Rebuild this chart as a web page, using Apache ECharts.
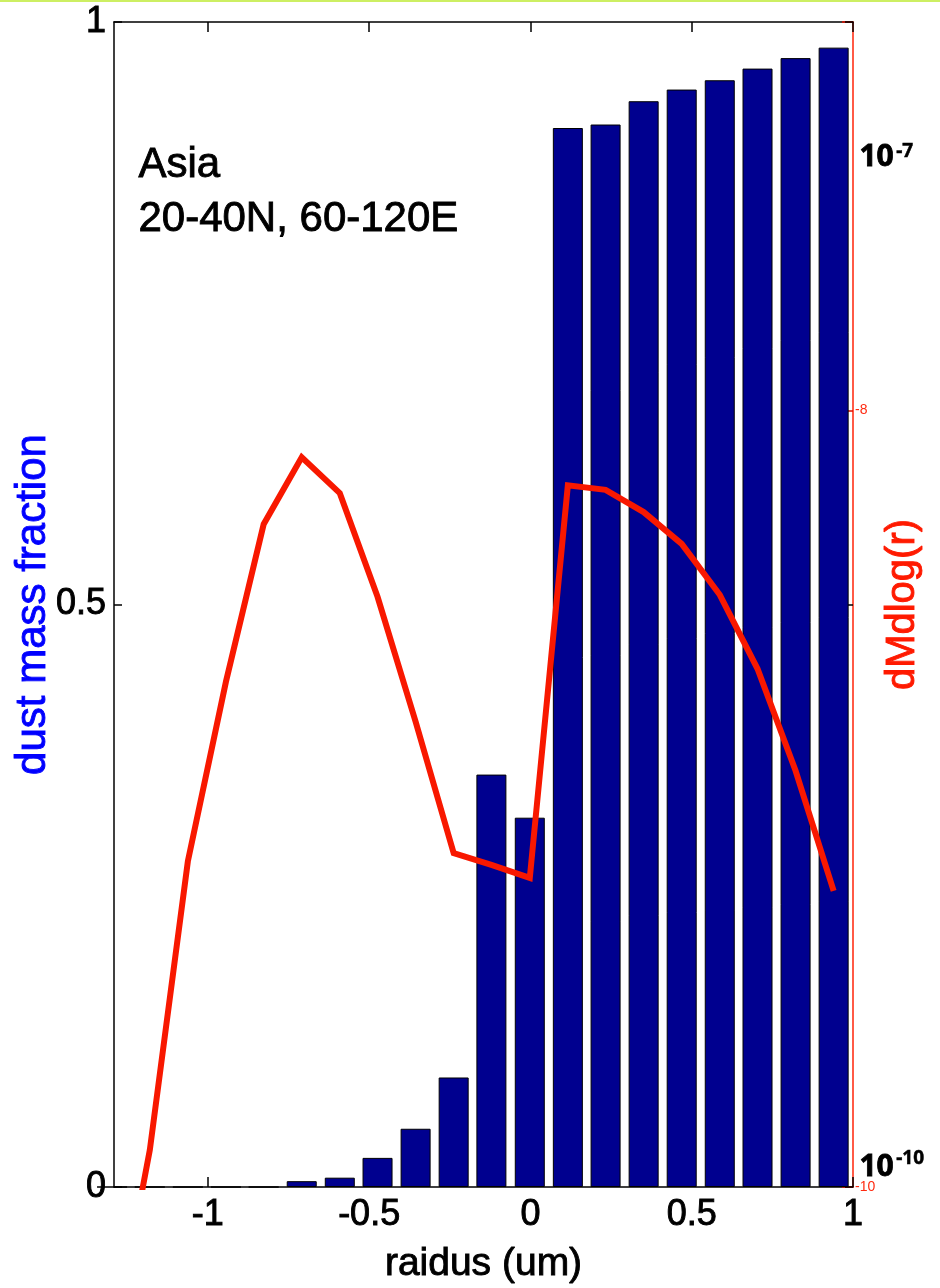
<!DOCTYPE html>
<html>
<head>
<meta charset="utf-8">
<title>Asia dust size distribution</title>
<script src="https://cdn.jsdelivr.net/npm/echarts@6/dist/echarts.min.js"></script>
<style>
  html, body { margin: 0; padding: 0; background: #ffffff; }
  #chart { width: 940px; height: 1288px; }
</style>
</head>
<body>
<div id="chart"></div>
<script>
// log10 radius bin centres (um)
const radius = [-1.297, -1.180, -1.062, -0.944, -0.827, -0.709, -0.591, -0.474, -0.356, -0.238,
                -0.121, -0.002, 0.116, 0.233, 0.351, 0.469, 0.587, 0.704, 0.822, 0.940];
// cumulative dust mass fraction per bin
const massFraction = [0, 0, 0, 0, 0, 0.005, 0.008, 0.025, 0.050, 0.094,
                      0.354, 0.317, 0.909, 0.912, 0.932, 0.942, 0.950, 0.960, 0.969, 0.978];
// mass distribution dM/dlog(r)
const dMdlogr = [3.8e-11, 1.245e-10, 6.9e-10, 2.0e-9, 5.09e-9, 7.57e-9, 6.12e-9, 3.31e-9, 1.58e-9, 7.24e-10,
                 6.75e-10, 6.25e-10, 6.41e-9, 6.24e-9, 5.47e-9, 4.53e-9, 3.35e-9, 2.16e-9, 1.18e-9, 5.79e-10];
const xTicks = [-1, -0.5, 0, 0.5, 1];

const FONT = '"Liberation Sans", Arial, Helvetica, sans-serif';
const BADGE_FONT = '"Open Sans", "DejaVu Sans", sans-serif';
const BAR_COLOR = '#00008f';
const LINE_RED = '#f81800';

const chart = echarts.init(document.getElementById('chart'), null, { renderer: 'canvas' });

const barData = radius.map((r, i) => [r, massFraction[i]]);
const lineData = radius.map((r, i) => [r, dMdlogr[i]]);

// slightly heavier strokes for the axis text
const heavy = (color) => ({ textBorderColor: color, textBorderWidth: 0.9 });

const option = {
  animation: false,
  backgroundColor: '#ffffff',
  grid: { left: 114, right: 87, top: 22, bottom: 101, containLabel: false, outerBoundsMode: 'none' },
  xAxis: [
    {
      type: 'value',
      min: -1.291,
      max: 1,
      position: 'bottom',
      name: 'raidus (um)',
      nameLocation: 'middle',
      nameGap: 58,
      nameMoveOverlap: false,
      nameTextStyle: Object.assign({ fontFamily: FONT, fontSize: 39, color: '#000' }, heavy('#000')),
      axisLine: { show: true, onZero: false, lineStyle: { color: '#000', width: 1.5 } },
      axisTick: { show: true, inside: true, length: 10, customValues: xTicks, lineStyle: { color: '#000', width: 1.5 } },
      axisLabel: Object.assign({ show: true, customValues: xTicks, margin: 10, fontFamily: FONT, fontSize: 36, color: '#000' }, heavy('#000')),
      splitLine: { show: false }
    },
    {
      type: 'value',
      min: -1.291,
      max: 1,
      position: 'top',
      axisLine: { show: true, onZero: false, lineStyle: { color: '#000', width: 1.5 } },
      axisTick: { show: true, inside: true, length: 10, customValues: xTicks, lineStyle: { color: '#000', width: 1.5 } },
      axisLabel: { show: false },
      splitLine: { show: false }
    }
  ],
  yAxis: [
    {
      type: 'value',
      min: 0,
      max: 1,
      interval: 0.5,
      position: 'left',
      name: 'dust mass fraction',
      nameLocation: 'middle',
      nameGap: 60,
      nameMoveOverlap: false,
      nameTextStyle: Object.assign({ fontFamily: FONT, fontSize: 42, color: '#0000ff' }, heavy('#0000ff')),
      axisLine: { show: true, onZero: false, lineStyle: { color: '#000', width: 1.5 } },
      axisTick: { show: true, inside: true, length: 8, lineStyle: { color: '#000', width: 1.5 } },
      axisLabel: Object.assign({ margin: 8, fontFamily: FONT, fontSize: 36, color: '#000',
                   formatter: v => String(v) }, heavy('#000')),
      splitLine: { show: false }
    },
    {
      type: 'log',
      logBase: 10,
      min: 1e-10,
      max: 1e-7,
      interval: 2,
      position: 'right',
      name: 'dMdlog(r)',
      nameLocation: 'middle',
      nameGap: 30,
      nameMoveOverlap: false,
      nameTextStyle: Object.assign({ fontFamily: FONT, fontSize: 40, color: '#ff1a00' }, heavy('#ff1a00')),
      axisLine: { show: true, onZero: false, lineStyle: { color: '#ff5a46', width: 2 } },
      axisTick: { show: true, inside: true, length: 11, lineStyle: { color: '#e01000', width: 1.5 } },
      axisLabel: {
        margin: 2, fontFamily: FONT, fontSize: 14, color: '#ff2a10',
        formatter: v => {
          const e = Math.round(Math.log10(v));
          return (e === -8 || e === -10) ? String(e) : '';
        }
      },
      splitLine: { show: false }
    },
    {
      type: 'value',
      min: 0,
      max: 1,
      interval: 0.5,
      position: 'right',
      axisLine: { show: false, onZero: false },
      axisTick: { show: true, inside: true, length: 8, lineStyle: { color: '#000', width: 1.5 } },
      axisLabel: { show: false },
      splitLine: { show: false }
    }
  ],
  series: [
    {
      type: 'bar',
      xAxisIndex: 0,
      yAxisIndex: 0,
      data: barData,
      barWidth: 30,
      clip: true,
      itemStyle: { color: BAR_COLOR, borderColor: '#000', borderWidth: 1 },
      z: 2
    },
    {
      type: 'line',
      xAxisIndex: 0,
      yAxisIndex: 1,
      data: lineData,
      showSymbol: false,
      symbol: 'none',
      clip: true,
      lineStyle: { color: LINE_RED, width: 6, join: 'miter', cap: 'butt' },
      z: 3
    }
  ],
  graphic: [
    { type: 'rect', left: 0, top: 0, shape: { width: 940, height: 2 }, style: { fill: '#cdef63' }, silent: true },
    { type: 'text', left: 138, top: 144, style: { text: 'Asia', fontFamily: FONT, fontSize: 42, fill: '#000', stroke: '#000', lineWidth: 0.9 } },
    { type: 'text', left: 138, top: 198, style: { text: '20-40N, 60-120E', fontFamily: FONT, fontSize: 42, fill: '#000', stroke: '#000', lineWidth: 0.9 } },
    { type: 'text', left: 859, top: 142, style: { text: '10', fontFamily: BADGE_FONT, fontWeight: 'bold', fontSize: 30, fill: '#000', stroke: '#000', lineWidth: 0.8 } },
    { type: 'text', left: 896, top: 142, style: { text: '-7', fontFamily: BADGE_FONT, fontWeight: 'bold', fontSize: 19, fill: '#000', stroke: '#000', lineWidth: 0.5 } },
    { type: 'text', left: 859, top: 1152, style: { text: '10', fontFamily: BADGE_FONT, fontWeight: 'bold', fontSize: 30, fill: '#000', stroke: '#000', lineWidth: 0.8 } },
    { type: 'text', left: 896, top: 1149, style: { text: '-10', fontFamily: BADGE_FONT, fontWeight: 'bold', fontSize: 19, fill: '#000', stroke: '#000', lineWidth: 0.5 } }
  ]
};

chart.setOption(option);
</script>
</body>
</html>
